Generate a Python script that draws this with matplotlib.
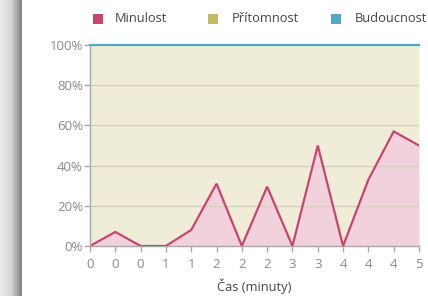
import numpy as np
import matplotlib
matplotlib.use("Agg")
import matplotlib.pyplot as plt
from matplotlib.patches import Rectangle

# Data
tick_labels = ["0", "0", "0", "1", "1", "2", "2", "2", "3", "3", "4", "4", "4", "5"]
minulost = [0, 7, 0, 0, 8, 31, 0, 29.5, 0, 50, 0, 33, 57, 50]
pritomnost = [100 - v for v in minulost]
budoucnost = [0] * len(minulost)
series_names = ["Minulost", "Přítomnost", "Budoucnost"]
series_colors = ["#c8466e", "#c2bb62", "#4ea9c2"]
y_ticks = [0, 20, 40, 60, 80, 100]

plt.rcParams['font.family'] = ['Open Sans', 'DejaVu Sans']

fig = plt.figure(figsize=(4.28, 2.96), dpi=100)
fig.patch.set_facecolor("white")

# left shadow strip
grad_ax = fig.add_axes([0, 0, 22 / 428, 1])
grad = np.concatenate([np.linspace(0.92, 0.84, 12), np.linspace(0.80, 0.58, 8), [0.5, 0.55]])
grad_ax.imshow(np.tile(grad, (2, 1)), cmap="gray", vmin=0, vmax=1, aspect="auto",
               extent=[0, 1, 0, 1], interpolation="bilinear")
grad_ax.axis("off")

ax = fig.add_axes([90 / 428, 1 - 246 / 296, 329 / 428, 201 / 296])
x = np.arange(len(minulost))
y1 = np.array(minulost, dtype=float)
y2 = y1 + np.array(pritomnost, dtype=float)
y3 = y2 + np.array(budoucnost, dtype=float)

ax.set_facecolor("white")
ax.fill_between(x, 0, y1, color="#f1d1dc", lw=0, zorder=1)
ax.fill_between(x, y1, y2, color="#efecd8", lw=0, zorder=1)
ax.fill_between(x, y2, y3, color="#d6ecf2", lw=0, zorder=1)
ax.plot(x, y3, color=series_colors[2], lw=1.6, zorder=4, clip_on=False)
ax.plot(x, y1, color=series_colors[0], lw=1.6, zorder=4, solid_joinstyle="miter")

ax.set_xlim(0, len(minulost) - 1)
ax.set_ylim(0, 100)
ax.set_yticks(y_ticks)
ax.set_yticklabels([f"{v}%" for v in y_ticks])
ax.set_xticks(x)
ax.set_xticklabels(tick_labels)
for v in y_ticks[1:-1]:
    ax.axhline(v, color="#d6d2bf", lw=1, zorder=2)

for s in ["top", "right"]:
    ax.spines[s].set_visible(False)
for s in ["left", "bottom"]:
    ax.spines[s].set_color("#a8a8a8")
    ax.spines[s].set_linewidth(1)
ax.spines["left"].set_zorder(5)
ax.tick_params(axis="both", colors="#a8a8a8", labelcolor="#8a8a8a", labelsize=9.5, length=4, width=1)
ax.tick_params(axis="x", pad=5)
ax.tick_params(axis="y", pad=1)
ax.set_xlabel("Čas (minuty)", fontsize=9.3, color="#444444", labelpad=5)

# legend
leg_sq = [93 / 428, 208 / 428, 331 / 428]
leg_tx = [115 / 428, 232 / 428, 355 / 428]
ly = 1 - 19 / 296
for name, col, sx, tx in zip(series_names, series_colors, leg_sq, leg_tx):
    fig.patches.append(Rectangle((sx, ly - 5 / 296), 10 / 428, 10 / 296, transform=fig.transFigure,
                                 facecolor=col, edgecolor="none"))
    fig.text(tx, ly, name, fontsize=9.3, color="#444444", va="center", ha="left")

fig.savefig("out.png", dpi=100, facecolor="white")
